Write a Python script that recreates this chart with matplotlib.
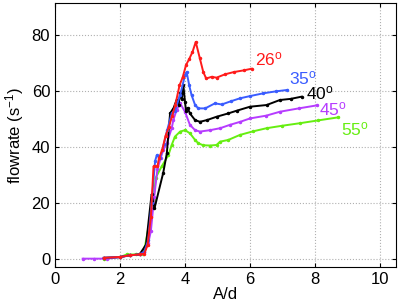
import matplotlib
matplotlib.use("Agg")
import matplotlib.pyplot as plt

plt.rcParams['font.family'] = ['Liberation Sans', 'DejaVu Sans']
plt.rcParams['mathtext.fontset'] = 'custom'
plt.rcParams['mathtext.rm'] = 'Liberation Sans'
plt.rcParams['mathtext.it'] = 'Liberation Sans:italic'

# curves: A/d vs flowrate
x26 = [1.5, 2.0, 2.3, 2.6, 2.75, 2.85, 2.95, 3.03, 3.15, 3.2, 3.3, 3.4, 3.5, 3.6, 3.7, 3.83,
       3.93, 4.03, 4.13, 4.23, 4.33, 4.45, 4.56, 4.65, 4.82, 4.97, 5.23, 5.5, 5.8, 6.05]
y26 = [0.3, 0.6, 1.2, 1.5, 1.8, 5.0, 15.0, 33.0, 33.0, 36.0, 39.0, 44.0, 47.0, 51.0, 55.0, 62.0,
       65.0, 69.3, 71.5, 74.0, 77.6, 72.0, 66.9, 64.5, 65.1, 64.8, 66.0, 66.8, 67.4, 68.0]

x35 = [1.5, 2.0, 2.3, 2.6, 2.75, 2.87, 2.97, 3.08, 3.13, 3.23, 3.35, 3.45, 3.59, 3.69, 3.85,
       4.0, 4.05, 4.13, 4.2, 4.31, 4.41, 4.62, 4.92, 5.13, 5.4, 5.69, 6.0, 6.41, 6.8, 7.15]
y35 = [0.3, 0.6, 1.2, 1.5, 2.5, 6.8, 20.0, 35.0, 37.0, 36.0, 41.0, 46.0, 52.0, 53.0, 58.6,
       65.7, 66.8, 62.0, 58.6, 55.0, 53.8, 53.8, 55.6, 55.2, 56.3, 57.4, 58.2, 59.2, 59.9, 60.4]

x40 = [1.5, 2.0, 2.3, 2.6, 2.8, 2.97, 3.06, 3.33, 3.44, 3.54, 3.65, 3.74, 3.8, 3.85, 3.9,
       3.95, 4.0, 4.03, 4.08, 4.15, 4.31, 4.46, 4.67, 4.97, 5.33, 5.6, 6.0, 6.51, 6.92, 7.25, 7.59]
y40 = [0.3, 0.6, 1.2, 1.5, 5.0, 23.0, 18.0, 30.8, 37.7, 52.0, 54.0, 56.8, 55.0, 59.2, 57.0,
       62.0, 56.0, 53.0, 54.0, 52.0, 49.6, 49.0, 49.6, 50.8, 52.0, 53.0, 54.4, 55.0, 56.8, 57.2, 58.0]

x45 = [0.85, 1.2, 1.6, 2.0, 2.3, 2.6, 2.75, 2.87, 2.95, 3.05, 3.15, 3.25, 3.33, 3.44, 3.59,
       3.64, 3.74, 3.85, 4.0, 4.15, 4.31, 4.46, 4.77, 5.08, 5.38, 5.7, 6.0, 6.5, 6.92, 7.5, 8.07]
y45 = [0.0, 0.0, 0.0, 0.5, 1.2, 1.5, 2.5, 5.6, 10.0, 22.0, 32.0, 36.0, 38.9, 41.3, 46.7,
       49.6, 53.2, 55.6, 52.6, 47.9, 46.0, 45.5, 46.0, 46.7, 47.9, 49.0, 50.2, 51.2, 52.6, 53.8, 54.9]

x55 = [1.5, 2.0, 2.2, 2.5, 2.7, 2.77, 2.92, 3.03, 3.1, 3.28, 3.49, 3.59, 3.69, 3.85, 4.0,
       4.15, 4.31, 4.41, 4.56, 4.77, 4.97, 5.08, 5.33, 5.69, 6.1, 6.51, 7.0, 7.54, 8.1, 8.72]
y55 = [0.0, 0.5, 1.5, 1.5, 1.8, 4.6, 14.0, 21.0, 29.0, 33.0, 37.1, 40.7, 43.7, 45.5, 46.0,
       44.9, 42.5, 41.3, 40.6, 40.5, 40.7, 41.9, 42.5, 44.3, 45.6, 46.7, 47.6, 48.5, 49.5, 50.6]

labels = ['26', '35', '40', '45', '55']
label_x = [6.15, 7.2, 7.72, 8.12, 8.8]
label_y = [69.3, 62.3, 57.0, 51.4, 44.3]
colors = ['#ff1a1a', '#3a5cff', '#000000', '#b63cff', '#66ee11']

xs = [x26, x35, x40, x45, x55]
ys = [y26, y35, y40, y45, y55]

fig = plt.figure(figsize=(3.99, 3.08), dpi=100)
ax = fig.add_axes([0.138, 0.133, 0.855, 0.857])

# draw back to front so red ends on top
for x, y, c in reversed(list(zip(xs, ys, colors))):
    ax.plot(x, y, color=c, lw=1.4, marker='.', ms=3)

for lab, lx, ly, c in zip(labels, label_x, label_y, colors):
    ax.text(lx, ly, lab + '$^{\\mathrm{o}}$', color=c, fontsize=12.5)

ax.set_xlim(0, 10.5)
ax.set_ylim(-3, 91.5)
ax.set_xticks([0, 2, 4, 6, 8, 10])
ax.set_yticks([0, 20, 40, 60, 80])
ax.tick_params(direction='in', top=True, right=True, labelsize=12, length=3)
ax.grid(True, ls=':', color='#b0b0b0', lw=0.8)
ax.set_xlabel('A/d', fontsize=12, labelpad=0)
ax.set_ylabel('flowrate (s$^{-1}$)', fontsize=12, labelpad=4)

fig.savefig('out.png', dpi=100)
